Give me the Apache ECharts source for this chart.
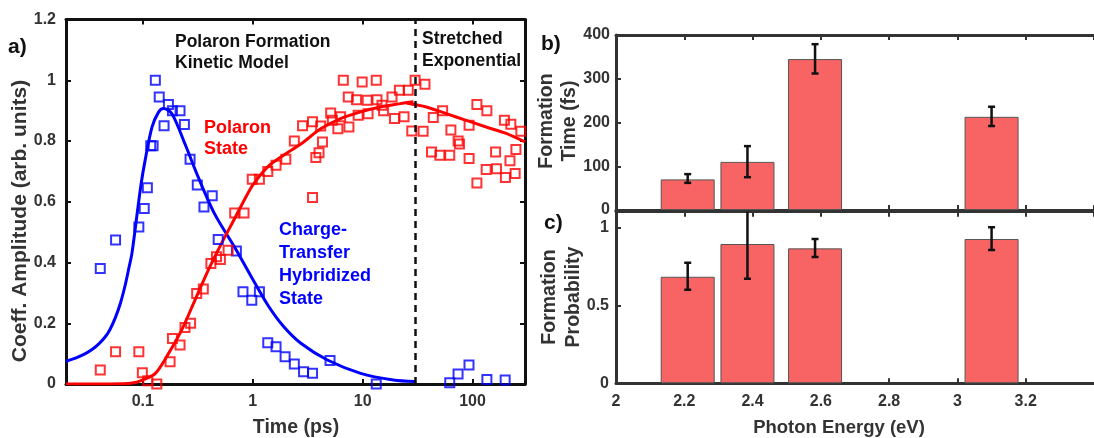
<!DOCTYPE html>
<html><head><meta charset="utf-8">
<script src="https://cdn.jsdelivr.net/npm/echarts@6/dist/echarts.min.js"></script>
<style>html,body{margin:0;padding:0;background:#fff}#c{width:1094px;height:438px}</style>
</head><body><div id="c"></div>
<script>
// ---------- Panel a: time-resolved amplitudes ----------
const ctTimes = [0.041,0.0565,0.092,0.103,0.110,0.118,0.124,0.13,0.141,0.156,0.171,0.186,0.218,0.239,0.269,0.313,0.36,0.428,0.485,0.71,0.815,0.98,1.15,1.37,1.63,1.97,2.39,2.90,3.50,5.05,13.3,62,73.8,92.8,135,198];
const ctAmps  = [0.38,0.474,0.517,0.578,0.646,0.784,0.784,1.0,0.945,0.85,0.92,0.90,0.90,0.854,0.74,0.655,0.583,0.62,0.476,0.4375,0.304,0.276,0.304,0.136,0.123,0.09,0.066,0.04,0.035,0.077,0.0,0.004,0.033,0.0625,0.015,0.013];

const polTimes = [0.041,0.0565,0.092,0.099,0.111,0.134,0.177,0.186,0.218,0.242,0.272,0.309,0.355,0.416,0.468,0.508,0.597,0.685,0.833,0.99,1.15,1.37,1.63,2.0,2.39,2.84,3.5,3.5,3.75,4.01,4.31,4.15,5.12,5.3,6.3,5.95,6.67,7.4,7.5,8.8,9.1,9.9,11,11.2,13.3,13.5,15,15.5,18.5,19.5,21.6,23.8,26,28,30,35.5,36.9,42.3,43.9,50.4,53.4,62,63.5,73.9,76,93,93,109.5,109.5,135,133,162,165,195,199,223,219,248,244,275];
const polAmps  = [0.046,0.106,0.106,0.037,0.011,0.0,0.073,0.15,0.128,0.186,0.20,0.298,0.3125,0.397,0.419,0.41,0.44,0.563,0.563,0.674,0.674,0.70,0.72,0.74,0.80,0.85,0.863,0.614,0.746,0.761,0.797,0.849,0.892,0.868,0.88,0.84,1.0,0.945,0.846,0.936,0.885,0.994,0.934,0.89,1.0,0.936,0.918,0.90,0.945,0.874,0.967,0.88,0.967,0.833,1.0,0.832,0.987,0.764,0.877,0.753,0.90,0.753,0.836,0.80,0.79,0.852,0.742,0.92,0.662,0.90,0.706,0.764,0.709,0.868,0.68,0.855,0.735,0.772,0.693,0.832];

const ctModelT = [0.02,0.025,0.03,0.035,0.04,0.045,0.05,0.0565,0.063,0.0696,0.075,0.0796,0.088,0.0966,0.105,0.121,0.139,0.154,0.184,0.242,0.32,0.45,0.685,0.97,1.37,1.9,2.74,4.78,9.6,19,30];
const ctModelA = [0.075,0.087,0.10,0.115,0.133,0.153,0.178,0.22,0.27,0.33,0.385,0.43,0.55,0.66,0.737,0.845,0.895,0.907,0.89,0.79,0.68,0.56,0.45,0.353,0.26,0.19,0.134,0.079,0.035,0.013,0.008];

const polModelT = [0.02,0.05,0.08,0.099,0.13,0.171,0.226,0.298,0.394,0.52,0.685,0.85,1.0,1.37,1.94,2.74,4.15,6.3,9.6,14.5,22,29];
const polModelA = [0,0,0.003,0.013,0.035,0.10,0.178,0.276,0.375,0.463,0.545,0.61,0.655,0.715,0.755,0.79,0.84,0.874,0.896,0.912,0.923,0.929];

const stretchT = [25,38,57.6,87.5,133,202,300];
const stretchA = [0.925,0.912,0.89,0.868,0.846,0.825,0.797];

const dividerTime = 30;

// ---------- Panels b, c: energy dependence ----------
const photonEnergy   = [2.21, 2.385, 2.583, 3.10];
const formationTime  = [70, 110, 345, 213];
const timeErrLow     = [62, 75, 312, 192];
const timeErrHigh    = [82, 146, 379, 236];
const probability    = [0.683, 0.893, 0.865, 0.925];
const probErrLow     = [0.60, 0.67, 0.81, 0.855];
const probErrHigh    = [0.773, 1.11, 0.925, 1.0];

const FONT = '"Liberation Sans", Arial, Helvetica, sans-serif';
const pairs = (a, b) => a.map((v, i) => [v, b[i]]);
const triples = (a, b, c) => a.map((v, i) => [v, b[i], c[i]]);

const chart = echarts.init(document.getElementById('c'), null, {renderer: 'canvas'});

const lblStyle = {color: '#333', fontSize: 16, fontWeight: 'bold', fontFamily: FONT};
function frameAxis(extra, color) {
  return Object.assign({
    axisLine: {show: true, onZero: false, lineStyle: {color: color, width: 3}},
    axisTick: {show: true, inside: true, length: 5, lineStyle: {color: color, width: 2}},
    splitLine: {show: false},
    axisLabel: {show: false}
  }, extra);
}

function errRender(params, api) {
  const x = api.value(0);
  const lo = api.coord([x, api.value(1)]);
  const hi = api.coord([x, api.value(2)]);
  const cap = 3.5;
  const st = {stroke: '#111', lineWidth: 2.5};
  return {type: 'group', children: [
    {type: 'line', shape: {x1: lo[0], y1: lo[1], x2: hi[0], y2: hi[1]}, style: st},
    {type: 'line', shape: {x1: lo[0]-cap, y1: lo[1], x2: lo[0]+cap, y2: lo[1]}, style: st},
    {type: 'line', shape: {x1: hi[0]-cap, y1: hi[1], x2: hi[0]+cap, y2: hi[1]}, style: st}
  ]};
}

function txt(s, x, y, size, color, align, rot) {
  return {type: 'text', x: x, y: y, rotation: rot || 0, z: 100,
    style: {text: s, font: 'bold ' + size + 'px ' + FONT, fill: color,
      textAlign: align || 'left', textVerticalAlign: 'middle'}};
}

const option = {
  animation: false,
  backgroundColor: '#fff',
  grid: [
    {left: 66, top: 19.5, right: 569, bottom: 54},
    {left: 616, top: 35, right: -2, height: 175},
    {left: 616, top: 211.7, right: -2, height: 171.6}
  ],
  xAxis: [
    frameAxis({type: 'log', logBase: 10, gridIndex: 0, min: 0.02, max: 300, position: 'bottom',
      axisLabel: Object.assign({show: true, margin: 10, showMinLabel: false, showMaxLabel: false,
        formatter: v => String(+(+v).toPrecision(3))}, lblStyle)}, '#111'),
    frameAxis({type: 'log', logBase: 10, gridIndex: 0, min: 0.02, max: 300, position: 'top'}, '#111'),
    frameAxis({type: 'value', gridIndex: 1, min: 2, max: 3.4, interval: 0.2, position: 'bottom'}, '#333'),
    frameAxis({type: 'value', gridIndex: 1, min: 2, max: 3.4, interval: 0.2, position: 'top'}, '#333'),
    frameAxis({type: 'value', gridIndex: 2, min: 2, max: 3.4, interval: 0.2, position: 'bottom',
      axisLabel: Object.assign({show: true, margin: 10, showMaxLabel: false}, lblStyle)}, '#333'),
    frameAxis({type: 'value', gridIndex: 2, min: 2, max: 3.4, interval: 0.2, position: 'top'}, '#333')
  ],
  yAxis: [
    frameAxis({type: 'value', gridIndex: 0, min: 0, max: 1.2, interval: 0.2, position: 'left',
      axisLabel: Object.assign({show: true, margin: 10}, lblStyle)}, '#111'),
    frameAxis({type: 'value', gridIndex: 0, min: 0, max: 1.2, interval: 0.2, position: 'right'}, '#111'),
    frameAxis({type: 'value', gridIndex: 1, min: 0, max: 400, interval: 100, position: 'left',
      axisLabel: Object.assign({show: true, margin: 6}, lblStyle)}, '#333'),
    frameAxis({type: 'value', gridIndex: 2, min: 0, max: 1.1, interval: 0.5, position: 'left',
      axisLabel: Object.assign({show: true, margin: 7, showMaxLabel: false}, lblStyle)}, '#333')
  ],
  series: [
    {type: 'line', name: 'CT model', xAxisIndex: 0, yAxisIndex: 0, data: pairs(ctModelT, ctModelA),
      smooth: 0.3, showSymbol: false, lineStyle: {color: '#0000ff', width: 3}, z: 2},
    {type: 'line', name: 'Polaron model', xAxisIndex: 0, yAxisIndex: 0, data: pairs(polModelT, polModelA),
      smooth: 0.3, showSymbol: false, lineStyle: {color: '#ff0000', width: 3}, z: 2},
    {type: 'line', name: 'Stretched', xAxisIndex: 0, yAxisIndex: 0, data: pairs(stretchT, stretchA),
      smooth: 0.3, showSymbol: false, lineStyle: {color: '#ff0000', width: 3}, z: 2,
      markLine: {silent: true, symbol: ['none', 'none'], label: {show: false},
        lineStyle: {color: '#111', width: 2.5, type: [7, 5]}, data: [{xAxis: dividerTime}]}},
    {type: 'scatter', name: 'CT data', xAxisIndex: 0, yAxisIndex: 0, data: pairs(ctTimes, ctAmps),
      symbol: 'rect', symbolSize: 9, z: 3,
      itemStyle: {color: 'rgba(0,0,0,0)', borderColor: '#0000ff', borderWidth: 2}},
    {type: 'scatter', name: 'Polaron data', xAxisIndex: 0, yAxisIndex: 0, data: pairs(polTimes, polAmps),
      symbol: 'rect', symbolSize: 9, z: 3,
      itemStyle: {color: 'rgba(0,0,0,0)', borderColor: '#ff0000', borderWidth: 2}},
    {type: 'bar', name: 'Formation time', xAxisIndex: 2, yAxisIndex: 2, data: pairs(photonEnergy, formationTime),
      barWidth: 54, itemStyle: {color: '#f86464', borderColor: '#555', borderWidth: 1}},
    {type: 'custom', name: 'time err', xAxisIndex: 2, yAxisIndex: 2, clip: true,
      data: triples(photonEnergy, timeErrLow, timeErrHigh), encode: {x: 0, y: [1, 2]},
      renderItem: errRender, z: 5},
    {type: 'bar', name: 'Formation probability', xAxisIndex: 4, yAxisIndex: 3, data: pairs(photonEnergy, probability),
      barWidth: 54, itemStyle: {color: '#f86464', borderColor: '#555', borderWidth: 1}},
    {type: 'custom', name: 'prob err', xAxisIndex: 4, yAxisIndex: 3, clip: true,
      data: triples(photonEnergy, probErrLow, probErrHigh), encode: {x: 0, y: [1, 2]},
      renderItem: errRender, z: 5}
  ],
  graphic: [
    txt('a)', 8, 47, 21, '#111'),
    txt('b)', 541, 44, 21, '#111'),
    txt('c)', 544, 223, 21, '#111'),
    txt('Coeff. Amplitude (arb. units)', 20, 221, 21, '#333', 'center', Math.PI / 2),
    txt('Time (ps)', 296, 428, 19.5, '#333', 'center'),
    txt('Formation', 546.7, 121, 19.5, '#333', 'center', Math.PI / 2),
    txt('Time (fs)', 570, 121, 19.5, '#333', 'center', Math.PI / 2),
    txt('Formation', 550, 297, 19.5, '#333', 'center', Math.PI / 2),
    txt('Probability', 573.3, 297, 19.5, '#333', 'center', Math.PI / 2),
    txt('Photon Energy (eV)', 839, 428, 18.5, '#333', 'center'),
    txt('Polaron Formation', 175, 42, 17.5, '#111'),
    txt('Kinetic Model', 175, 63, 17.5, '#111'),
    txt('Stretched', 422, 39, 17.5, '#111'),
    txt('Exponential', 422, 61, 17.5, '#111'),
    txt('Polaron', 204, 128, 18, '#ff0000'),
    txt('State', 204, 149, 18, '#ff0000'),
    txt('Charge-', 279, 230, 18, '#0000ff'),
    txt('Transfer', 279, 253, 18, '#0000ff'),
    txt('Hybridized', 279, 276, 18, '#0000ff'),
    txt('State', 279, 299, 18, '#0000ff')
  ]
};
chart.setOption(option);
</script></body></html>
